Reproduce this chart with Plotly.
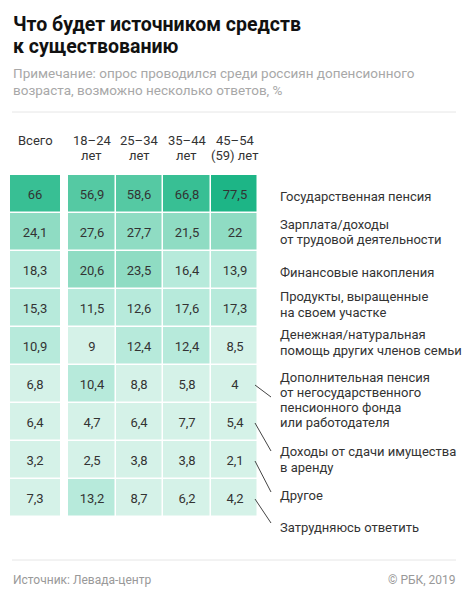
import plotly.graph_objects as go

W, H = 472, 600

categories = [
    "Государственная пенсия",
    "Зарплата/доходы<br>от трудовой деятельности",
    "Финансовые накопления",
    "Продукты, выращенные<br>на своем участке",
    "Денежная/натуральная<br>помощь других членов семьи",
    "Дополнительная пенсия<br>от негосударственного<br>пенсионного фонда<br>или работодателя",
    "Доходы от сдачи имущества<br>в аренду",
    "Другое",
    "Затрудняюсь ответить",
]
age_groups = ["18–24<br>лет", "25–34<br>лет", "35–44<br>лет", "45–54<br>(59) лет"]
total = [66, 24.1, 18.3, 15.3, 10.9, 6.8, 6.4, 3.2, 7.3]
by_age = [
    [56.9, 58.6, 66.8, 77.5],
    [27.6, 27.7, 21.5, 22],
    [20.6, 23.5, 16.4, 13.9],
    [11.5, 12.6, 17.6, 17.3],
    [9, 12.4, 12.4, 8.5],
    [10.4, 8.8, 5.8, 4],
    [4.7, 6.4, 7.7, 5.4],
    [2.5, 3.8, 3.8, 2.1],
    [13.2, 8.7, 6.2, 4.2],
]

# layout in pixels
top, row_h = 175, 38
n = len(categories)
bottom = top + row_h * n
label_dy = [2, 0, 2, -3.5, -3.5, 16, 37.5, 35, 29]   # label offset from row centre
leader_end = [None, None, None, None, None, 13, 29, 32, 25]


def px(x):
    return x / W


def py(y):
    return 1 - y / H


def fmt(v):
    return f"{v:g}".replace(".", ",")


greens = ["#d5f2e8", "#b7eadb", "#8fdcc3", "#70d2b2", "#55c9a3", "#38bf94", "#1db586"]
stops = [0, 10, 20, 30, 50, 60, 70, 80]
scale = []
for i, c in enumerate(greens):
    scale.append([stops[i] / 80, c])
    scale.append([stops[i + 1] / 80, c])

rows = list(range(n))
fig = go.Figure()
fig.add_trace(go.Heatmap(
    z=[[v] for v in total], x=["Всего"], y=rows,
    text=[[fmt(v)] for v in total], texttemplate="%{text}",
    textfont=dict(size=13, color="#333333", family="Roboto"),
    colorscale=scale, zmin=0, zmax=80, showscale=False,
    ygap=1.5, hoverinfo="skip", xaxis="x", yaxis="y",
))
fig.add_trace(go.Heatmap(
    z=by_age, x=age_groups, y=rows,
    text=[[fmt(v) for v in r] for r in by_age], texttemplate="%{text}",
    textfont=dict(size=13, color="#333333", family="Roboto"),
    colorscale=scale, zmin=0, zmax=80, showscale=False,
    xgap=1.5, ygap=1.5, hoverinfo="skip", xaxis="x2", yaxis="y",
))

ann = []
# column headers
for xref, cols in (("x", ["Всего"]), ("x2", age_groups)):
    for c in cols:
        parts = c.split("<br>")
        for k, p in enumerate(parts):
            ann.append(dict(text=p, x=c, xref=xref, y=py(140 + 15.5 * k), yref="paper",
                            showarrow=False, xanchor="center", yanchor="middle",
                            font=dict(size=13, color="#333333")))

# row labels and leader lines
shapes = []
for i, lab in enumerate(categories):
    parts = lab.split("<br>")
    yc = top + row_h * (i + 0.5) + label_dy[i]
    y0 = yc - 15.3 * (len(parts) - 1) / 2
    for k, p in enumerate(parts):
        ann.append(dict(text=p, x=px(278), xref="paper", y=py(y0 + 15.3 * k), yref="paper",
                        showarrow=False, xanchor="left", yanchor="middle",
                        font=dict(size=13, color="#333333")))
    if leader_end[i] is not None:
        yr = top + row_h * (i + 0.5)
        shapes.append(dict(type="line", xref="paper", yref="paper",
                           x0=px(255), y0=py(yr + 1), x1=px(271), y1=py(yr + leader_end[i]),
                           line=dict(color="#444444", width=1)))

# titles
for k, t in enumerate(["Что будет источником средств", "к существованию"]):
    ann.append(dict(text=f"<b>{t}</b>", x=px(11), xref="paper", y=py(25 + 21 * k), yref="paper",
                    showarrow=False, xanchor="left", yanchor="middle",
                    font=dict(size=19.5, color="#111111")))
for k, t in enumerate(["Примечание: опрос проводился среди россиян допенсионного",
                       "возраста, возможно несколько ответов, %"]):
    ann.append(dict(text=t, x=px(11), xref="paper", y=py(73 + 16.5 * k), yref="paper",
                    showarrow=False, xanchor="left", yanchor="middle",
                    font=dict(size=13.5, color="#a8a8a8")))
ann.append(dict(text="Источник: Левада-центр", x=px(11), xref="paper", y=py(580), yref="paper",
                showarrow=False, xanchor="left", yanchor="middle",
                font=dict(size=12, color="#999999")))
ann.append(dict(text="© РБК, 2019", x=px(458), xref="paper", y=py(580), yref="paper",
                showarrow=False, xanchor="right", yanchor="middle",
                font=dict(size=12, color="#999999")))

for yy in (112, 560):
    shapes.append(dict(type="line", xref="paper", yref="paper", x0=px(12), x1=px(456),
                       y0=py(yy), y1=py(yy), line=dict(color="#e6e6e6", width=1)))

hidden = dict(showticklabels=False, showgrid=False, zeroline=False, ticks="", fixedrange=True)
fig.update_layout(
    width=W, height=H, margin=dict(l=0, r=0, t=0, b=0),
    paper_bgcolor="white", plot_bgcolor="white",
    font=dict(family="Roboto", color="#333333"),
    xaxis=dict(domain=[px(10), px(60)], **hidden),
    xaxis2=dict(domain=[px(68), px(260)], anchor="y", **hidden),
    yaxis=dict(domain=[py(bottom), py(top)], autorange="reversed", **hidden),
    annotations=ann, shapes=shapes, showlegend=False,
)

fig.write_html("out.html", config={"displayModeBar": False},
               post_script="document.body.style.margin='0';document.body.style.overflow='hidden';")
